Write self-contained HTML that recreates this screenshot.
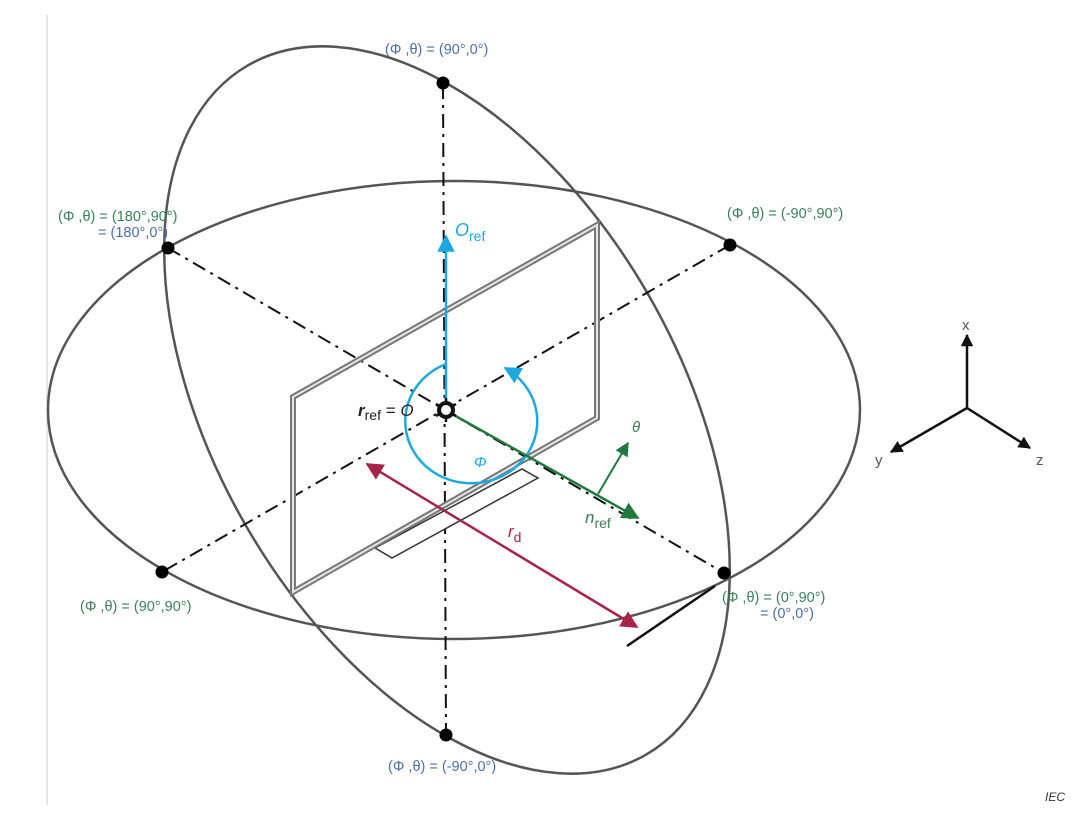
<!DOCTYPE html>
<html><head><meta charset="utf-8"><style>
html,body{margin:0;padding:0;background:#fff;width:1080px;height:820px;overflow:hidden;}
svg{display:block;font-family:"Liberation Sans",sans-serif;}
.b{fill:#4a70a8;font-size:14.5px;}
.g{fill:#3b8058;font-size:14.5px;}
</style></head><body>
<svg width="1080" height="820" viewBox="0 0 1080 820" xmlns="http://www.w3.org/2000/svg">
<defs>
<marker id="ac" viewBox="0 0 10 10" refX="9" refY="5" markerWidth="7" markerHeight="7" orient="auto"><path d="M0,0L10,5L0,10z" fill="#1ea8e0"/></marker>
<marker id="ag" viewBox="0 0 10 10" refX="9" refY="5" markerWidth="7" markerHeight="7" orient="auto"><path d="M0,0L10,5L0,10z" fill="#1f7a3c"/></marker>
<marker id="ar" viewBox="0 0 10 10" refX="9" refY="5" markerWidth="7" markerHeight="7" orient="auto"><path d="M0,0L10,5L0,10z" fill="#a8234a"/></marker>
<marker id="ars" viewBox="0 0 10 10" refX="1" refY="5" markerWidth="7" markerHeight="7" orient="auto"><path d="M10,0L0,5L10,10z" fill="#a8234a"/></marker>
<marker id="ak" viewBox="0 0 10 10" refX="9" refY="5" markerWidth="5" markerHeight="5" orient="auto"><path d="M0,0L10,5L0,10z" fill="#111"/></marker>
</defs>
<line x1="47" y1="15" x2="47" y2="805" stroke="#ddd" stroke-width="1.5"/>
<ellipse cx="454" cy="410" rx="406" ry="229" fill="none" stroke="#555" stroke-width="2.5"/>
<ellipse cx="447" cy="410" rx="232" ry="398" fill="none" stroke="#555" stroke-width="2.5" transform="rotate(-30 447 410)"/>
<g stroke="#111" stroke-width="2" stroke-dasharray="14,6,3,6" fill="none">
<line x1="443" y1="85" x2="446" y2="735"/>
<line x1="168" y1="248" x2="724" y2="573"/>
<line x1="730" y1="245" x2="162" y2="572"/>
</g>
<polygon points="375,548 392,558 538,478 522,469" fill="#fff" stroke="#333" stroke-width="1.5"/>
<polygon points="293,397 597,225 597,418 293,592" fill="none" stroke="#777" stroke-width="6"/>
<polygon points="293,397 597,225 597,418 293,592" fill="none" stroke="#e4e4e4" stroke-width="2"/>
<line x1="446" y1="404" x2="446" y2="236" stroke="#1ea8e0" stroke-width="2.5" marker-end="url(#ac)"/>
<path d="M446,364 A66,62 0 1 0 505,368" fill="none" stroke="#1ea8e0" stroke-width="2.5" marker-end="url(#ac)"/>
<line x1="452" y1="414" x2="638" y2="518" stroke="#1f7a3c" stroke-width="2.5" marker-end="url(#ag)"/>
<line x1="598" y1="494" x2="628" y2="443" stroke="#1f7a3c" stroke-width="2" marker-end="url(#ag)"/>
<line x1="367" y1="464" x2="637" y2="627" stroke="#a8234a" stroke-width="2.5" marker-start="url(#ars)" marker-end="url(#ar)"/>
<line x1="627" y1="646" x2="715" y2="586" stroke="#111" stroke-width="2.5"/>
<g stroke="#111" stroke-width="2.5">
<line x1="446" y1="398" x2="446" y2="422"/>
<line x1="436" y1="404" x2="456" y2="416"/>
<line x1="436" y1="416" x2="456" y2="404"/>
</g>
<circle cx="446" cy="410" r="7" fill="#fff" stroke="#111" stroke-width="4"/>
<g fill="#000">
<circle cx="443" cy="83" r="6.5"/><circle cx="446" cy="735" r="6.5"/>
<circle cx="168" cy="248" r="6.5"/><circle cx="730" cy="245" r="6.5"/>
<circle cx="162" cy="572" r="6.5"/><circle cx="724" cy="573" r="6.5"/>
</g>
<text class="b" x="385" y="54">(Φ ,θ) = (90°,0°)</text>
<text class="g" x="58" y="221">(Φ ,θ) = (180°,90°)</text>
<text class="b" x="98" y="237">= (180°,0°)</text>
<text class="g" x="727" y="218">(Φ ,θ) = (-90°,90°)</text>
<text class="g" x="80" y="611">(Φ ,θ) = (90°,90°)</text>
<text class="g" x="722" y="602">(Φ ,θ) = (0°,90°)</text>
<text class="b" x="760" y="618">= (0°,0°)</text>
<text class="b" x="388" y="771">(Φ ,θ) = (-90°,0°)</text>
<text x="455" y="236" fill="#1ea8e0" font-size="18" font-style="italic">O<tspan font-size="14" font-style="normal" dy="5">ref</tspan></text>
<text x="474" y="467" fill="#1ea8e0" font-size="15" font-style="italic">Φ</text>
<text x="632" y="432" fill="#3b8058" font-size="15" font-style="italic">θ</text>
<text x="585" y="523" fill="#3b8058" font-size="17" font-style="italic">n<tspan font-size="14" font-style="normal" dy="5">ref</tspan></text>
<text x="508" y="537" fill="#a8234a" font-size="17" font-style="italic">r<tspan font-size="14" font-style="normal" dy="5">d</tspan></text>
<text x="358" y="416" fill="#222" font-size="17"><tspan font-style="italic" font-weight="bold">r</tspan><tspan font-size="14" dy="4">ref</tspan><tspan dy="-4"> = </tspan><tspan font-style="italic">O</tspan></text>
<g stroke="#111" stroke-width="2.5">
<line x1="967" y1="408" x2="967" y2="335" marker-end="url(#ak)"/>
<line x1="967" y1="408" x2="891" y2="452" marker-end="url(#ak)"/>
<line x1="967" y1="408" x2="1030" y2="448" marker-end="url(#ak)"/>
</g>
<text x="962" y="330" fill="#555" font-size="15">x</text>
<text x="875" y="465" fill="#555" font-size="15">y</text>
<text x="1036" y="465" fill="#555" font-size="15">z</text>
<text x="1045" y="801" fill="#333" font-size="12" font-style="italic">IEC</text>
</svg>
</body></html>
